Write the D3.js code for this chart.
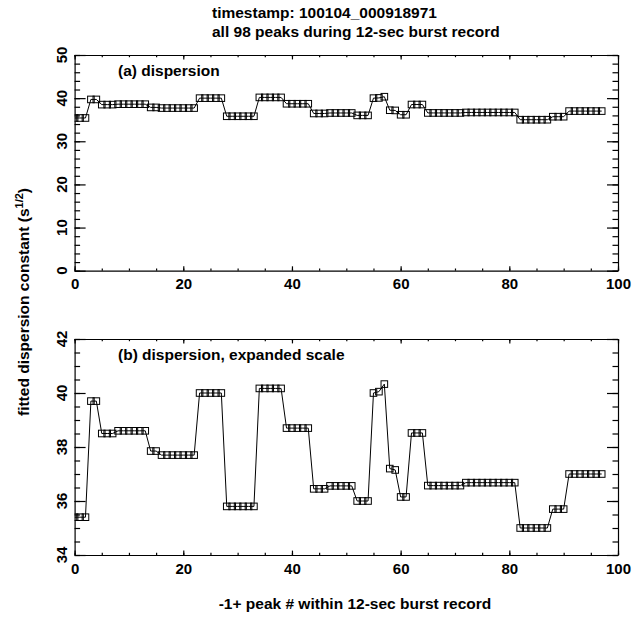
<!DOCTYPE html>
<html>
<head>
<meta charset="utf-8">
<script src="https://cdn.jsdelivr.net/npm/d3@7"></script>
<style>
  body { margin: 0; background: #fff; }
  text { font-family: "Liberation Sans", Arial, Helvetica, sans-serif; font-weight: bold; fill: #000; }
</style>
</head>
<body>
<script>
// fitted dispersion constant for each of the 98 peaks (x = -1 + peak #)
const dispersion = [
  35.4, 35.4, 35.4, 39.7, 39.7, 38.5, 38.5, 38.5, 38.6, 38.6,
  38.6, 38.6, 38.6, 38.6, 37.85, 37.85, 37.7, 37.7, 37.7, 37.7,
  37.7, 37.7, 37.7, 40.0, 40.0, 40.0, 40.0, 40.0, 35.8, 35.8,
  35.8, 35.8, 35.8, 35.8, 40.17, 40.17, 40.17, 40.17, 40.17, 38.7,
  38.7, 38.7, 38.7, 38.7, 36.45, 36.45, 36.45, 36.56, 36.56, 36.56,
  36.56, 36.56, 36.0, 36.0, 36.0, 40.0, 40.05, 40.33, 37.2, 37.15,
  36.15, 36.15, 38.52, 38.52, 38.52, 36.57, 36.57, 36.57, 36.57, 36.57,
  36.57, 36.57, 36.68, 36.68, 36.68, 36.68, 36.68, 36.68, 36.68, 36.68,
  36.68, 36.68, 35.0, 35.0, 35.0, 35.0, 35.0, 35.0, 35.7, 35.7,
  35.7, 37.0, 37.0, 37.0, 37.0, 37.0, 37.0, 37.0
];

const xTickValues = [0, 20, 40, 60, 80, 100];
const yTicksFull = [0, 10, 20, 30, 40, 50];
const yTicksExpanded = [34, 36, 38, 40, 42];

const titleLines = ["timestamp: 100104_000918971", "all 98 peaks during 12-sec burst record"];
const xTitle = "-1+ peak # within 12-sec burst record";

const width = 633, height = 619;
const plotLeft = 74.6, plotRight = 618;
const sym = 6.6; // square symbol size
const fontSize = "15.5px";

const svg = d3.select("body").append("svg")
  .attr("width", width)
  .attr("height", height);

const x = d3.scaleLinear().domain([0, 100]).range([plotLeft, plotRight]);

const panels = [
  { id: "a", top: 55, bottom: 270.7, domain: [0, 50], ticks: yTicksFull, minor: 25, label: "(a) dispersion" },
  { id: "b", top: 339, bottom: 555, domain: [34, 42], ticks: yTicksExpanded, minor: 16, label: "(b) dispersion, expanded scale" }
];

panels.forEach(p => {
  const y = d3.scaleLinear().domain(p.domain).range([p.bottom, p.top]);
  const g = svg.append("g");

  g.append("clipPath").attr("id", "clip-" + p.id)
    .append("rect")
    .attr("x", plotLeft).attr("y", p.top)
    .attr("width", plotRight - plotLeft).attr("height", p.bottom - p.top);

  // minor ticks (x every 5, y per panel)
  const xMinor = x.ticks(20);
  const yMinor = y.ticks(p.minor);
  const minorStyle = a => a.call(s => s.select(".domain").remove()).selectAll("text").remove();

  g.append("g").attr("transform", `translate(0,${p.bottom})`)
    .call(d3.axisBottom(x).tickValues(xMinor).tickSize(-2.2).tickFormat(""))
    .call(minorStyle);
  g.append("g").attr("transform", `translate(0,${p.top})`)
    .call(d3.axisTop(x).tickValues(xMinor).tickSize(-2.2).tickFormat(""))
    .call(minorStyle);
  g.append("g").attr("transform", `translate(${plotLeft},0)`)
    .call(d3.axisLeft(y).tickValues(yMinor).tickSize(-5.5).tickFormat(""))
    .call(minorStyle);
  g.append("g").attr("transform", `translate(${plotRight},0)`)
    .call(d3.axisRight(y).tickValues(yMinor).tickSize(-5.5).tickFormat(""))
    .call(minorStyle);

  // major ticks + frame
  g.append("g").attr("transform", `translate(0,${p.bottom})`)
    .call(d3.axisBottom(x).tickValues(xTickValues).tickSize(-4.4).tickSizeOuter(0).tickPadding(8))
    .call(a => a.selectAll("text").style("font-size", "15px").attr("fill", "#000"));
  g.append("g").attr("transform", `translate(0,${p.top})`)
    .call(d3.axisTop(x).tickValues(xTickValues).tickSize(-4.4).tickSizeOuter(0).tickFormat(""));
  g.append("g").attr("transform", `translate(${plotLeft},0)`)
    .call(d3.axisLeft(y).tickValues(p.ticks).tickSize(-11).tickSizeOuter(0).tickFormat(""));
  g.append("g").attr("transform", `translate(${plotRight},0)`)
    .call(d3.axisRight(y).tickValues(p.ticks).tickSize(-11).tickSizeOuter(0).tickFormat(""));

  g.selectAll(".domain, .tick line").attr("stroke", "#000").attr("stroke-width", 1.2);

  // rotated y tick labels
  g.selectAll(".ylab")
    .data(p.ticks)
    .enter()
    .append("text")
    .attr("class", "ylab")
    .attr("transform", d => `translate(67,${y(d)}) rotate(-90)`)
    .attr("text-anchor", "middle")
    .style("font-size", "15px")
    .text(d => d);

  // data line + square symbols
  const plot = g.append("g").attr("clip-path", `url(#clip-${p.id})`);
  plot.append("path")
    .datum(dispersion)
    .attr("fill", "none")
    .attr("stroke", "#000")
    .attr("stroke-width", 1)
    .attr("d", d3.line().x((d, i) => x(i)).y(d => y(d)));
  plot.selectAll("rect.sym")
    .data(dispersion)
    .enter()
    .append("rect")
    .attr("class", "sym")
    .attr("x", (d, i) => x(i) - sym / 2)
    .attr("y", d => y(d) - sym / 2)
    .attr("width", sym)
    .attr("height", sym)
    .attr("fill", "none")
    .attr("stroke", "#000")
    .attr("stroke-width", 1);

  g.append("text")
    .attr("x", 118)
    .attr("y", p.top + 21)
    .style("font-size", fontSize)
    .text(p.label);
});

// titles (left aligned, as in the original plot)
svg.selectAll(".title")
  .data(titleLines)
  .enter()
  .append("text")
  .attr("class", "title")
  .attr("x", 212)
  .attr("y", (d, i) => 18 + i * 18.5)
  .style("font-size", fontSize)
  .text(d => d);

svg.append("text")
  .attr("x", 355)
  .attr("y", 609)
  .attr("text-anchor", "middle")
  .style("font-size", fontSize)
  .text(xTitle);

const yTitle = svg.append("text")
  .attr("transform", "translate(29,302) rotate(-90)")
  .attr("text-anchor", "middle")
  .style("font-size", fontSize);
yTitle.append("tspan").text("fitted dispersion constant (s");
yTitle.append("tspan").attr("dy", -6.5).style("font-size", "11px").text("1/2");
yTitle.append("tspan").attr("dy", 6.5).text(")");
</script>
</body>
</html>
